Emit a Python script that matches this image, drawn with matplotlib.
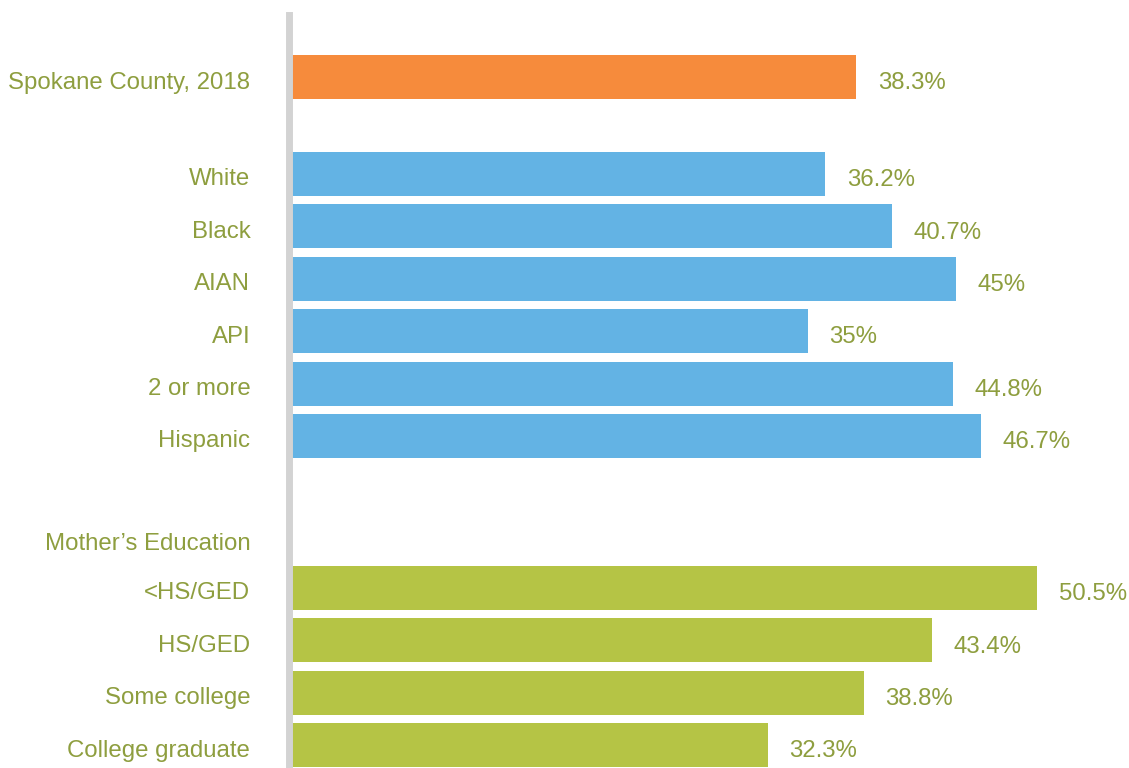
import numpy as np
import matplotlib.pyplot as plt
from matplotlib.transforms import ScaledTranslation

plt.rcParams['font.family'] = ['Liberation Sans', 'DejaVu Sans']

total_label = 'Spokane County, 2018'
total_value = 38.3

race_labels = ['White', 'Black', 'AIAN', 'API', '2 or more', 'Hispanic']
race_values = [36.2, 40.7, 45, 35, 44.8, 46.7]
race_text = ['36.2%', '40.7%', '45%', '35%', '44.8%', '46.7%']

edu_heading = 'Mother\u2019s Education'
edu_labels = ['<HS/GED', 'HS/GED', 'Some college', 'College graduate']
edu_values = [50.5, 43.4, 38.8, 32.3]
edu_text = ['50.5%', '43.4%', '38.8%', '32.3%']

orange = '#F68B3C'
blue = '#63B3E4'
green = '#B5C445'
text_col = '#8E9E3F'

# row positions (one unit per row, extra gaps between groups)
race_pos = 1.85 + np.arange(len(race_labels))
head_pos = race_pos[-1] + 1.95
edu_pos = head_pos + 0.95 + np.arange(len(edu_labels))

W, H = 1129, 768
fig = plt.figure(figsize=(W / 100, H / 100), dpi=100)
left = 288.5
top = 15
ax = fig.add_axes([left / W, 0, 1 - left / W, 1 - top / H])

unit = 52.4
bh = 44 / unit
ax.barh([0], [total_value], height=bh, color=orange)
ax.barh(race_pos, race_values, height=bh, color=blue)
ax.barh(edu_pos, edu_values, height=bh, color=green)

vals = [total_value] + race_values + edu_values
texts = ['38.3%'] + race_text + edu_text
poss = [0] + list(race_pos) + list(edu_pos)
for v, t, p in zip(vals, texts, poss):
    ax.annotate(t, (v, p), xytext=(15.5, -4.5), textcoords='offset points',
                ha='left', va='center', fontsize=17.3, color=text_col)

ax.set_yticks([0] + list(race_pos) + [head_pos] + list(edu_pos))
ax.set_yticklabels([total_label] + race_labels + [edu_heading] + edu_labels,
                   fontsize=17.3, color=text_col)
ax.tick_params(axis='y', length=0, pad=27.5)
shift = ScaledTranslation(0, -3 / 100, fig.dpi_scale_trans)
for lbl in ax.get_yticklabels():
    lbl.set_transform(lbl.get_transform() + shift)
ax.set_xticks([])

ax.set_xlim(0, (W - left) / 14.83)
ax.set_ylim(-(77 - top) / unit + (H - top) / unit, -(77 - top) / unit)

for s in ['top', 'right', 'bottom']:
    ax.spines[s].set_visible(False)
ax.spines['left'].set_color('#D3D3D3')
ax.spines['left'].set_linewidth(5.0)

plt.savefig('out.png', dpi=100)
